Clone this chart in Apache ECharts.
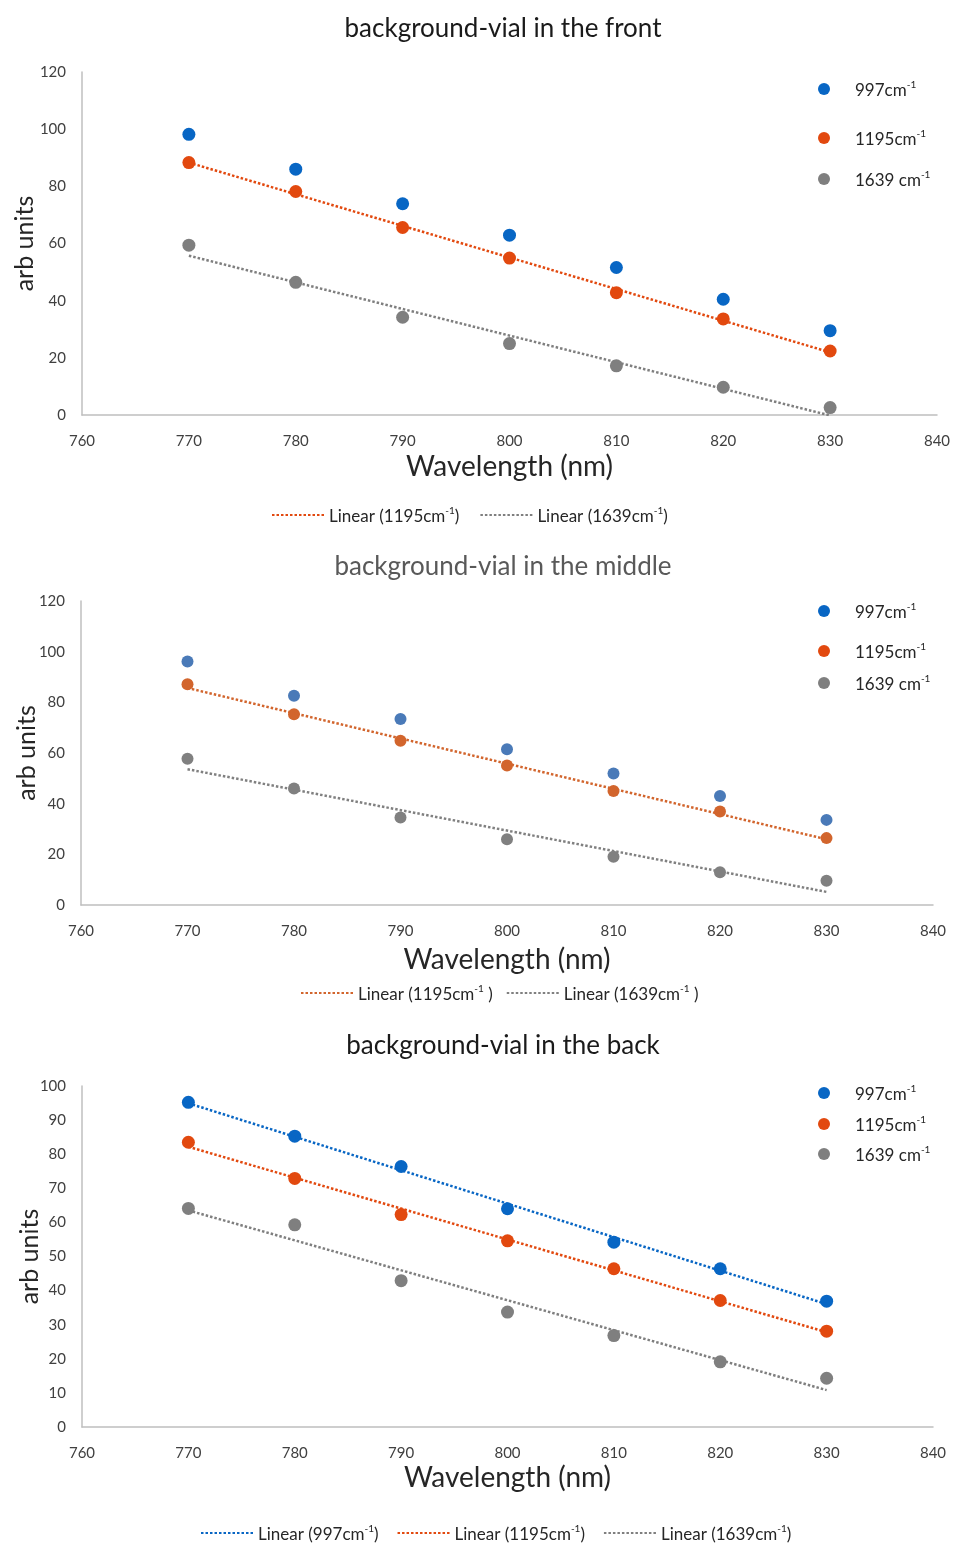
<!DOCTYPE html>
<html>
<head>
<meta charset="utf-8">
<script src="https://cdn.jsdelivr.net/npm/echarts@6/dist/echarts.min.js"></script>
<style>
html,body{margin:0;padding:0;background:#fff;}
.c{position:absolute;left:0;width:954px;}
</style>
</head>
<body>
<div id="c1" class="c" style="top:0;height:535px"></div>
<div id="c2" class="c" style="top:535px;height:475px"></div>
<div id="c3" class="c" style="top:1010px;height:536px"></div>
<script>
// ---- data ----
const wavelengths = [770, 780, 790, 800, 810, 820, 830];
const xTicks = [760, 770, 780, 790, 800, 810, 820, 830, 840];
const front997  = [98.2, 86.0, 73.9, 62.9, 51.6, 40.5, 29.5];
const front1195 = [88.3, 78.2, 65.6, 54.9, 42.8, 33.6, 22.4];
const front1639 = [59.4, 46.4, 34.2, 25.0, 17.2, 9.7, 2.6];
const middle997  = [96.1, 82.6, 73.4, 61.5, 51.9, 43.0, 33.6];
const middle1195 = [87.1, 75.3, 64.8, 55.1, 45.0, 36.9, 26.4];
const middle1639 = [57.7, 46.0, 34.5, 26.0, 19.0, 12.9, 9.6];
const back997  = [95.2, 85.3, 76.4, 64.0, 54.2, 46.4, 36.9];
const back1195 = [83.5, 72.9, 62.3, 54.6, 46.4, 37.1, 28.1];
const back1639 = [64.1, 59.3, 42.9, 33.7, 26.8, 19.1, 14.3];
const titles = ['background-vial in the front', 'background-vial in the middle', 'background-vial in the back'];
const xName = 'Wavelength (nm)';
const yName = 'arb units';

const FONT = 'Lato, "Noto Sans", sans-serif';

function pairs(ys) { return wavelengths.map((x, i) => [x, ys[i]]); }
// Excel-style linear trendline (least squares) computed from the points
function trend(ys) {
  const n = wavelengths.length;
  const mx = wavelengths.reduce((a, b) => a + b, 0) / n;
  const my = ys.reduce((a, b) => a + b, 0) / n;
  let sxy = 0, sxx = 0;
  wavelengths.forEach((x, i) => { sxy += (x - mx) * (ys[i] - my); sxx += (x - mx) * (x - mx); });
  const b = sxy / sxx, a = my - b * mx;
  const x0 = wavelengths[0], x1 = wavelengths[n - 1];
  return [[x0, a + b * x0], [x1, a + b * x1]];
}

const rich = {
  t: { fontFamily: FONT, fontSize: 17, color: '#262626', lineHeight: 20, verticalAlign: 'bottom' },
  tp: { fontFamily: FONT, fontSize: 17, color: '#262626', lineHeight: 20, verticalAlign: 'bottom', padding: [0, 0, 0, 20] },
  s: { fontFamily: FONT, fontSize: 10, color: '#262626', verticalAlign: 'bottom', padding: [0, 0, 9, 0] }
};
function supLabel(name, pad) {
  const m = name.match(/^(.*?)-1(.*)$/);
  const tag = pad ? 'tp' : 't';
  if (!m) return '{' + tag + '|' + name + '}';
  return '{' + tag + '|' + m[1] + '}{s|-1}' + (m[2] ? '{t|' + m[2] + '}' : '');
}

function build(cfg) {
  const series = [];
  const legends = [];
  cfg.points.forEach((p, i) => {
    series.push({
      name: p.name, type: 'scatter', data: pairs(p.data), symbolSize: cfg.sym,
      itemStyle: { color: p.color, opacity: 1 }, z: 2
    });
    legends.push({
      data: [{ name: p.name, itemStyle: { color: p.legendColor || p.color } }],
      left: cfg.legendLeft, top: cfg.legendTops[i] - 8, orient: 'vertical', padding: 0,
      icon: 'circle', itemWidth: 12, itemHeight: 12, selectedMode: false,
      formatter: n => supLabel(n, true), textStyle: { rich: rich }
    });
  });
  const lineNames = [];
  cfg.lines.forEach(l => {
    series.push({
      name: l.name, type: 'line', data: trend(l.data), showSymbol: false, symbol: 'none',
      lineStyle: { color: l.color, width: 2.5, type: [2.5, 2] }, itemStyle: { color: l.color },
      silent: true, z: 3, animation: false
    });
    lineNames.push(l.name);
  });
  legends.push({
    data: lineNames, left: cfg.bLegendLeft, top: cfg.bLegendTop - 9, padding: 0, itemGap: cfg.bGap,
    itemWidth: 52, itemHeight: 12, selectedMode: false,
    itemStyle: { opacity: 0 },
    formatter: n => supLabel(n, false), textStyle: { rich: rich }
  });
  return {
    animation: false,
    title: {
      text: cfg.title, left: 498, textAlign: 'center', top: cfg.titleTop,
      textStyle: { fontFamily: FONT, fontSize: 26, fontWeight: 'normal', color: cfg.titleColor }
    },
    legend: legends,
    grid: Object.assign({ outerBoundsMode: 'none', containLabel: false }, cfg.grid),
    xAxis: {
      type: 'value', min: 760, max: 840, interval: 10,
      name: xName, nameLocation: 'middle', nameGap: cfg.xNameGap, nameMoveOverlap: false,
      nameTextStyle: { fontFamily: FONT, fontSize: 28, color: '#262626' },
      axisLine: { show: true, lineStyle: { color: '#bfbfbf', width: 1.5 } },
      axisTick: { show: false }, splitLine: { show: false },
      axisLabel: { fontFamily: FONT, fontSize: 15, color: '#404040', margin: 19,
        formatter: v => xTicks.indexOf(v) >= 0 ? String(v) : '' }
    },
    yAxis: {
      type: 'value', min: 0, max: cfg.yMax, interval: cfg.yInt,
      name: yName, nameLocation: 'middle', nameGap: cfg.yNameGap, nameRotate: 90, nameMoveOverlap: false,
      nameTextStyle: { fontFamily: FONT, fontSize: 25, color: '#262626' },
      axisLine: { show: true, lineStyle: { color: '#bfbfbf', width: 1.5 } },
      axisTick: { show: false }, splitLine: { show: false },
      axisLabel: { fontFamily: FONT, fontSize: 15, color: '#404040', margin: 16 }
    },
    series: series
  };
}

const BLUE = '#0866c4', ORANGE = '#e2490f', GRAY = '#7f7f7f';
const configs = [
  {
    el: 'c1', title: titles[0], titleTop: 11, titleColor: '#1a1a1a',
    grid: { left: 82, right: 17, top: 72, bottom: 120 },
    yMax: 120, yInt: 20, xNameGap: 38, yNameGap: 45, sym: 13,
    legendLeft: 818, legendTops: [88, 137, 178],
    bLegendLeft: 271, bLegendTop: 515, bGap: 20,
    points: [
      { name: '997cm-1', data: front997, color: BLUE },
      { name: '1195cm-1', data: front1195, color: ORANGE },
      { name: '1639 cm-1', data: front1639, color: GRAY }
    ],
    lines: [
      { name: 'Linear (1195cm-1)', data: front1195, color: ORANGE },
      { name: 'Linear (1639cm-1)', data: front1639, color: GRAY }
    ]
  },
  {
    el: 'c2', title: titles[1], titleTop: 14, titleColor: '#595959',
    grid: { left: 81, right: 21, top: 66, bottom: 105 },
    yMax: 120, yInt: 20, xNameGap: 41, yNameGap: 42, sym: 12,
    legendLeft: 818, legendTops: [75, 115, 147],
    bLegendLeft: 300, bLegendTop: 458, bGap: 13,
    points: [
      { name: '997cm-1', data: middle997, color: '#4a7ab8', legendColor: BLUE },
      { name: '1195cm-1', data: middle1195, color: '#d2652d', legendColor: ORANGE },
      { name: '1639 cm-1', data: middle1639, color: '#808080', legendColor: GRAY }
    ],
    lines: [
      { name: 'Linear (1195cm-1 )', data: middle1195, color: '#d2652d' },
      { name: 'Linear (1639cm-1 )', data: middle1639, color: '#808080' }
    ]
  },
  {
    el: 'c3', title: titles[2], titleTop: 18, titleColor: '#1a1a1a',
    grid: { left: 82, right: 21, top: 76, bottom: 119 },
    yMax: 100, yInt: 10, xNameGap: 37, yNameGap: 40, sym: 13,
    legendLeft: 818, legendTops: [82, 113, 143],
    bLegendLeft: 200, bLegendTop: 523, bGap: 18,
    points: [
      { name: '997cm-1', data: back997, color: BLUE },
      { name: '1195cm-1', data: back1195, color: ORANGE },
      { name: '1639 cm-1', data: back1639, color: GRAY }
    ],
    lines: [
      { name: 'Linear (997cm-1)', data: back997, color: BLUE },
      { name: 'Linear (1195cm-1)', data: back1195, color: ORANGE },
      { name: 'Linear (1639cm-1)', data: back1639, color: GRAY }
    ]
  }
];
configs.forEach(cfg => {
  const chart = echarts.init(document.getElementById(cfg.el), null, { renderer: 'canvas' });
  chart.setOption(build(cfg));
});
</script>
</body>
</html>
